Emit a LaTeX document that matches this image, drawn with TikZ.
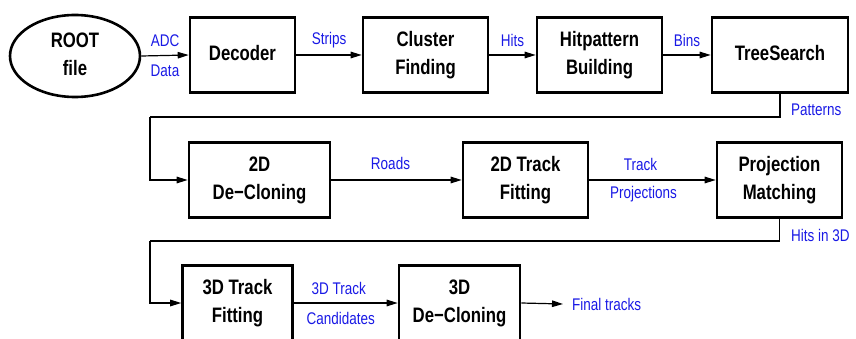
\documentclass[tikz,border=0pt]{standalone}
\usepackage{fontspec}
\setmainfont{Liberation Sans}
\usepackage{graphicx}
\usetikzlibrary{arrows.meta,shapes.geometric}
\definecolor{lblue}{rgb}{0.1,0.1,0.9}
\newcommand{\vstr}[1]{\scalebox{1}[1.25]{#1}}
\newcommand{\btxt}[1]{\vstr{\fontsize{16.75}{22}\selectfont\bfseries\begin{tabular}{@{}c@{}}#1\end{tabular}}}
\newcommand{\ltxt}[1]{\vstr{\fontsize{13.5}{16}\selectfont #1}}
\tikzset{
  procbox/.style={draw, line width=2.6pt, rectangle, minimum height=75pt, inner sep=0pt},
  conn/.style={line width=1.2pt, -{Triangle[length=11pt,width=6.5pt]}},
  plainline/.style={line width=1.2pt},
  lbl/.style={text=lblue, inner sep=0pt}
}
\begin{document}
\begin{tikzpicture}[x=1pt,y=-1pt]
\useasboundingbox (0,0) rectangle (856,339);
\clip (0,0) rectangle (856,339);
% row 1
\node[draw, ellipse, line width=2.6pt, minimum width=130pt, minimum height=82pt, inner sep=0pt] (root) at (75,56) {\btxt{ROOT\\file}};
\node[procbox, minimum width=105pt] (dec) at (242.5,55) {\btxt{Decoder}};
\node[procbox, minimum width=125pt] (clu) at (425.5,55) {\btxt{Cluster\\Finding}};
\node[procbox, minimum width=125pt] (hit) at (599.5,55) {\btxt{Hitpattern\\Building}};
\node[procbox, minimum width=136pt] (tree) at (780,55) {\btxt{TreeSearch}};
% row 2
\node[procbox, minimum width=141pt] (dc2) at (259.5,180) {\btxt{2D\\De−Cloning}};
\node[procbox, minimum width=125pt] (tf2) at (525.5,180) {\btxt{2D Track\\Fitting}};
\node[procbox, minimum width=125pt] (pm) at (779.5,180) {\btxt{Projection\\Matching}};
% row 3
\node[procbox, minimum width=110pt] (tf3) at (237.5,303) {\btxt{3D Track\\Fitting}};
\node[procbox, minimum width=121pt] (dc3) at (459.5,303) {\btxt{3D\\De−Cloning}};
\node[lbl, anchor=west] (fin) at (572,304) {\ltxt{Final tracks}};
% bend points
\coordinate (b1) at (150,117);
\coordinate (b2) at (150,241);
% connectors row 1
\draw[conn] (root.east) -- (dec.west)
  node[lbl, midway, yshift=15pt] (l1) {\ltxt{ADC}}
  node[lbl, midway, yshift=-15pt] (l2) {\ltxt{Data}};
\draw[conn] (dec.east) -- (clu.west)
  node[lbl, midway, yshift=15pt] (l3) {\ltxt{Strips}};
\draw[conn] (clu.east) -- (hit.west)
  node[lbl, midway, yshift=15pt] (l4) {\ltxt{Hits}};
\draw[conn] (hit.east) -- (tree.west)
  node[lbl, midway, yshift=15pt] (l5) {\ltxt{Bins}};
% tree -> dc2
\draw[plainline] (tree.south) |- (b1);
\draw[conn] (b1) |- (dc2.west);
\node[lbl, anchor=west] (l6) at (791,110) {\ltxt{Patterns}};
% row 2
\draw[conn] (dc2.east) -- (tf2.west)
  node[lbl, midway, yshift=17pt, xshift=-6pt] (l7) {\ltxt{Roads}};
\draw[conn] (tf2.east) -- (pm.west)
  node[lbl, midway, yshift=16pt, xshift=-12pt] (l8) {\ltxt{Track}}
  node[lbl, midway, yshift=-14pt, xshift=-9pt] (l9) {\ltxt{Projections}};
% pm -> tf3
\draw[plainline] (pm.south) |- (b2);
\draw[conn] (b2) |- (tf3.west);
\node[lbl, anchor=west] (l10) at (791,235) {\ltxt{Hits in 3D}};
% row 3
\draw[conn] (tf3.east) -- (dc3.west)
  node[lbl, midway, yshift=15pt, xshift=-7pt] (l11) {\ltxt{3D Track}}
  node[lbl, midway, yshift=-15pt, xshift=-5pt] (l12) {\ltxt{Candidates}};
\draw[conn] (dc3.east) -- ([xshift=-9pt]fin.west);
\end{tikzpicture}
\end{document}
